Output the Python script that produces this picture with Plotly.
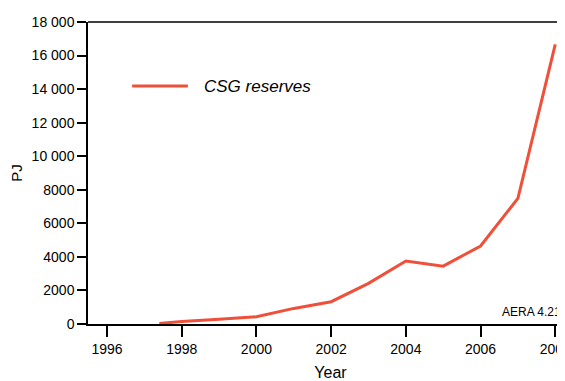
import plotly.graph_objects as go

# CSG reserves (PJ) by year
years = [1997.4, 1998, 1999, 2000, 2001, 2002, 2003, 2004, 2005, 2006, 2007, 2008]
reserves = [30, 150, 290, 430, 930, 1330, 2420, 3750, 3450, 4650, 7490, 16670]

x_ticks = [1996, 1998, 2000, 2002, 2004, 2006, 2008]
y_ticks = [0, 2000, 4000, 6000, 8000, 10000, 12000, 14000, 16000, 18000]
y_labels = ['0', '2000', '4000', '6000', '8000',
            '10 000', '12 000', '14 000', '16 000', '18 000']

RED = '#F0503A'
FONT = 'Liberation Sans, Arial, sans-serif'

fig = go.Figure()

fig.add_trace(go.Scatter(
    x=years,
    y=reserves,
    mode='lines',
    name='CSG reserves',
    line=dict(color=RED, width=3),
    showlegend=False
))

# hand-drawn legend (longer sample line than plotly's default)
fig.add_shape(type='line', xref='paper', yref='paper',
              x0=0.091, x1=0.206, y0=0.788, y1=0.788,
              line=dict(color=RED, width=3))
fig.add_annotation(text='<i>CSG reserves</i>', xref='paper', yref='paper',
                   x=0.236, y=0.788, xanchor='left', yanchor='middle',
                   showarrow=False, font=dict(size=17, color='black', family=FONT))

# top frame line (right side is cropped in the original)
fig.add_shape(type='line', xref='paper', yref='paper',
              x0=0, x1=1, y0=1, y1=1,
              line=dict(color='black', width=1.5))

fig.add_annotation(text='AERA 4.21', xref='paper', yref='y',
                   x=0.850, y=720, xanchor='left', yanchor='middle',
                   showarrow=False, font=dict(size=12, color='black', family=FONT))

# page body adds an 8px offset, so margins are shifted to compensate
fig.update_layout(
    width=565, height=381,
    margin=dict(l=80, r=0, t=14, b=65, autoexpand=False),
    plot_bgcolor='white', paper_bgcolor='white',
    font=dict(family=FONT, size=14, color='black'),
    xaxis=dict(
        range=[1995.49, 2008.475],
        tickvals=x_ticks,
        ticks='outside', ticklen=11, tickwidth=1.5, tickcolor='black',
        showline=True, linecolor='black', linewidth=1.5,
        showgrid=False, zeroline=False, automargin=False,
        title=dict(text='Year', font=dict(size=16), standoff=11),
    ),
    yaxis=dict(
        range=[0, 18000],
        tickvals=y_ticks, ticktext=y_labels,
        ticks='outside', ticklen=9, tickwidth=1.5, tickcolor='black',
        showline=True, linecolor='black', linewidth=1.5,
        showgrid=False, zeroline=False, automargin=False,
        title=dict(text='PJ', font=dict(size=15), standoff=8),
    ),
)

fig.write_html('out.html')
